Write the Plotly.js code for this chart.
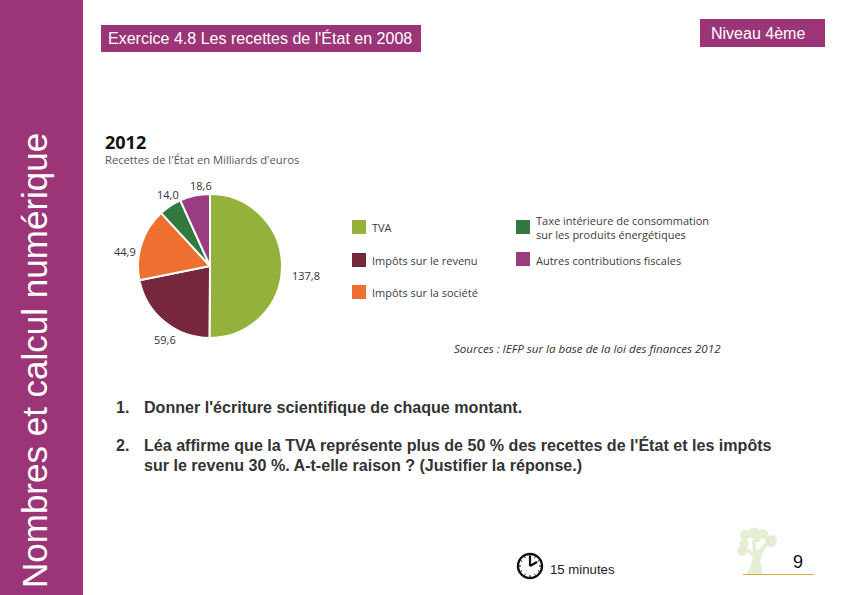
<!DOCTYPE html>
<html><head><meta charset="utf-8">
<script src="https://cdn.plot.ly/plotly-3.0.1.min.js"></script>
<style>html,body{margin:0;padding:0;background:#fff}#c{width:842px;height:595px}</style></head>
<body><div id="c"></div><script>
const categories = ["TVA","Impôts sur le revenu","Impôts sur la société","Taxe intérieure de consommation<br>sur les produits énergétiques","Autres contributions fiscales"];
const values = [137.8,59.6,44.9,14.0,18.6];
const valueLabels = ["137,8","59,6","44,9","14,0","18,6"];
const colors = ["#94B13C","#76273C","#EE7030","#33793F","#9A3D80"];
const purple = "#9B3578";
const X = x=>x/842, Y = y=>1-y/595;
const ann=[], shapes=[];
function T(text,x,y,size,color,o={}){const anch=o.xanchor||'left';ann.push(Object.assign({text,x:X(anch==='left'?x-2:x),y:Y(y),xref:'paper',yref:'paper',xanchor:'left',yanchor:'middle',showarrow:false,align:'left',font:{family:'"Liberation Sans",Arial,sans-serif',size,color}},o));}
function R(x0,y0,x1,y1,fill){shapes.push({type:'rect',xref:'paper',yref:'paper',x0:X(x0),x1:X(x1),y0:Y(y0),y1:Y(y1),fillcolor:fill,line:{width:0},layer:'below'});}
function L(x0,y0,x1,y1,color,width){shapes.push({type:'line',xref:'paper',yref:'paper',x0:X(x0),x1:X(x1),y0:Y(y0),y1:Y(y1),line:{color,width},layer:'below'});}
function P(path,fill){shapes.push({type:'path',xref:'paper',yref:'paper',path,fillcolor:fill,line:{width:0},layer:'below'});}
function pth(pts){return 'M'+pts.map(p=>X(p[0])+','+Y(p[1])).join(' L')+' Z';}
function C(cx,cy,r,fill,line,w){shapes.push({type:'circle',xref:'paper',yref:'paper',x0:X(cx-r),x1:X(cx+r),y0:Y(cy+r),y1:Y(cy-r),fillcolor:fill,line:{color:line||fill,width:w||0},layer:'below'});}

// sidebar and header boxes
R(0,0,83,595,purple);
T("Nombres et calcul numérique",34.5,360.5,35,"#fff",{textangle:-90,xanchor:'center'});
R(101,25,421,52,purple);
T("Exercice 4.8 Les recettes de l'État en 2008",108,38.5,16.05,"#fff");
R(700,19,825,47,purple);
T("Niveau 4ème",711,33,16,"#fff");

// chart heading
const of='"Open Sans",sans-serif';
T("<b>2012</b>",105,141.5,18,"#111",{font:{family:of,size:18,color:"#111"}});
T("Recettes de l'État en Milliards d'euros",105,160,11,"#555",{font:{family:of,size:11.2,color:"#555"}});

// value labels
const labelPos=[[306,275],[165,339],[125,251],[168,195],[201,185]];
valueLabels.forEach((v,i)=>T(v,labelPos[i][0],labelPos[i][1],11,"#333",{xanchor:'center',font:{family:of,size:11,color:"#333"}}));

// legend
const legPos=[[352,227,372,228],[352,260,372,260],[352,292,372,292],[516,227,536,228],[516,259,536,260]];
categories.forEach((c,i)=>{const p=legPos[i];R(p[0],p[1]-7,p[0]+14,p[1]+7,colors[i]);
 T(c,p[2],p[3],11,"#3c3c3c",{font:{family:of,size:11,color:"#3c3c3c"}});});
T("<i>Sources : IEFP sur la base de la loi des finances 2012</i>",454,348.5,11.6,"#333",{font:{family:of,size:11.6,color:"#333"}});

// questions
const q='#333';
T("<b>1.</b>",116,407,16,q);
T("<b>Donner l'écriture scientifique de chaque montant.</b>",144,407,16.08,q);
T("<b>2.</b>",116,445,16,q);
T("<b>Léa affirme que la TVA représente plus de 50 % des recettes de l'État et les impôts</b>",144,445,16.08,q);
T("<b>sur le revenu 30 %. A-t-elle raison ? (Justifier la réponse.)</b>",144,465,16.08,q);

// clock
C(530,566,12,"#fff","#111",2.4);
for(let a=0;a<12;a+=1){const t=a*Math.PI/6;L(530+9*Math.sin(t),566-9*Math.cos(t),530+11*Math.sin(t),566-11*Math.cos(t),"#111",1);}
L(530,566,530,556,"#111",2.2);
L(530,566,537,562,"#111",2.2);
T("15 minutes",550,569.5,13.2,"#222");

// tree, page number
const tree="#E3EED3";
P(pth([[746,575],[763,575],[760,560],[765,548],[772,541],[770,539],[762,546],[757,551],[755,540],[752,540],[753,552],[744,546],[743,548],[753,557],[751,565]]),tree);
[[754,533,5.5],[763,534,5],[771,541,6],[745,535,5],[742,551,5],[744,544,4.5],[757,539,3.5]].forEach(c=>C(c[0],c[1],c[2],tree));
L(743,574.5,814,574.5,"#E0A93F",1.2);
T("9",798,562,18,"#111",{xanchor:'center'});

const data=[{type:'pie',labels:categories,values:values,sort:false,direction:'clockwise',rotation:0,
 marker:{colors:colors,line:{color:'#fff',width:2}},textinfo:'none',hoverinfo:'label+value',showlegend:false,
 domain:{x:[X(138),X(282)],y:[Y(338),Y(194)]}}];
Plotly.newPlot('c',data,{width:842,height:595,margin:{l:0,r:0,t:0,b:0},paper_bgcolor:'#fff',plot_bgcolor:'#fff',showlegend:false,shapes,annotations:ann},{displayModeBar:false,staticPlot:true});
</script></body></html>
